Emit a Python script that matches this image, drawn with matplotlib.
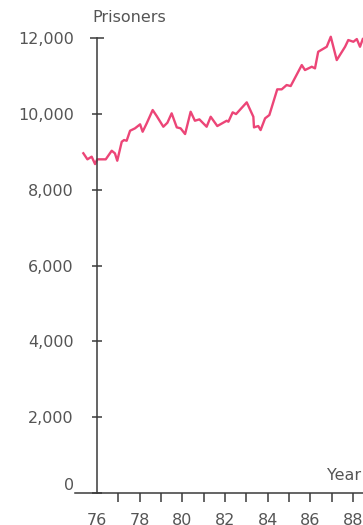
import matplotlib.pyplot as plt
import matplotlib.transforms as mtransforms

# data (year, number of prisoners)
years = [75.36, 75.55, 75.75, 75.91, 76.01, 76.41, 76.69, 76.84, 76.95, 77.16,
         77.27, 77.39, 77.55, 77.78, 78.02, 78.14, 78.33, 78.61, 78.80, 79.11,
         79.30, 79.50, 79.74, 79.92, 80.13, 80.39, 80.59, 80.80, 81.14, 81.33,
         81.64, 82.08, 82.16, 82.36, 82.52, 83.02, 83.33, 83.36, 83.56, 83.67,
         83.88, 84.08, 84.45, 84.66, 84.89, 85.08, 85.60, 85.75, 86.07, 86.22,
         86.37, 86.77, 86.96, 87.24, 87.63, 87.78, 88.02, 88.18, 88.33, 88.46]
prisoners = [8960, 8800, 8870, 8675, 8800, 8800, 9027, 8958, 8763, 9264,
             9309, 9290, 9554, 9617, 9723, 9528, 9749, 10100, 9941, 9660,
             9765, 10013, 9643, 9617, 9467, 10055, 9818, 9854, 9660, 9923,
             9678, 9818, 9792, 10039, 9994, 10303, 9923, 9643, 9678, 9572,
             9881, 9968, 10646, 10646, 10759, 10733, 11286, 11155, 11242, 11199,
             11637, 11769, 12033, 11418, 11769, 11946, 11901, 11972, 11769, 11972]

y_ticks = [0, 2000, 4000, 6000, 8000, 10000, 12000]
y_labels = ['0', '2,000', '4,000', '6,000', '8,000', '10,000', '12,000']
x_ticks = list(range(76, 89))
x_labels = ['76', '', '78', '', '80', '', '82', '', '84', '', '86', '', '88']

txt = '#555555'
axcol = '#3a3a3a'

fig = plt.figure(figsize=(3.63, 5.25), dpi=100)
ax = fig.add_axes([75/363, 1 - 493/525, 1 - 75/363, 455/525])

ax.plot(years, prisoners, color='#ec4577', lw=1.7, clip_on=False)

ax.set_xlim(76 - 22/21.33, 76 + 266/21.33)
ax.set_ylim(0, 12000)

for s in ['top', 'right']:
    ax.spines[s].set_visible(False)
ax.spines['left'].set_position(('data', 76))
ax.spines['left'].set_bounds(0, 12000)
ax.spines['left'].set_color(axcol)
ax.spines['bottom'].set_color(axcol)
ax.spines['left'].set_linewidth(1.1)
ax.spines['bottom'].set_linewidth(1.1)

ax.set_yticks(y_ticks)
ax.set_yticklabels(y_labels)
ax.tick_params(axis='y', direction='inout', length=7.2, width=1.1, color=axcol,
               pad=13, labelsize=11.5, labelcolor=txt)

# a tick every year, labels every two years
ax.set_xticks(x_ticks)
ax.set_xticklabels(x_labels)
ax.tick_params(axis='x', direction='out', length=6.5, width=1.1,
               color=axcol, pad=8, labelsize=11.5, labelcolor=txt)
ax.xaxis.get_major_ticks()[0].tick1line.set_visible(False)

# wider cap on the top tick
ax.yaxis.get_major_ticks()[-1].tick1line.set_markersize(9.6)

# "0" sits a bit above the x axis
lbl0 = ax.get_yticklabels()[0]
lbl0.set_transform(lbl0.get_transform() + mtransforms.ScaledTranslation(0, 9/100, fig.dpi_scale_trans))

fig.text(92/363, 1 - 17/525, 'Prisoners', fontsize=11.5, color=txt, ha='left', va='center')
fig.text(361/363, 1 - 475/525, 'Year', fontsize=11.5, color=txt, ha='right', va='center')

fig.savefig('out.png', dpi=100)
